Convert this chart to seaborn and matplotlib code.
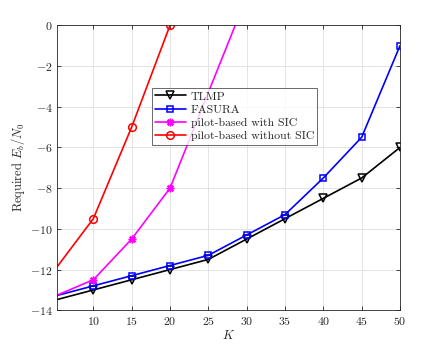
import numpy as np
import pandas as pd
import seaborn as sns
import matplotlib.pyplot as plt

# data
K = [5, 10, 15, 20, 25, 30, 35, 40, 45, 50]
tlmp = [-13.5, -13.0, -12.5, -12.0, -11.5, -10.5, -9.5, -8.5, -7.5, -6.0]
fasura = [-13.3, -12.8, -12.3, -11.8, -11.3, -10.3, -9.3, -7.5, -5.5, -1.0]
K_sic = [5, 10, 15, 20, 30]
pilot_sic = [-13.3, -12.5, -10.5, -8.0, 1.4]
K_nosic = [5, 10, 15, 20]
pilot_nosic = [-12.0, -9.5, -5.0, 0.0]

names = ["TLMP", "FASURA", "pilot-based with SIC", "pilot-based without SIC"]
colors = ["black", "blue", "magenta", "red"]
markers = ["v", "s", (8, 2, 0), "o"]
msizes = [6, 4.5, 5.5, 5.5]

sns.set_style("ticks")
plt.rcParams["font.family"] = ["cmr10", "DejaVu Serif"]
plt.rcParams["mathtext.fontset"] = "cm"
plt.rcParams["axes.unicode_minus"] = False
plt.rcParams["axes.formatter.use_mathtext"] = True

frames = []
for name, xs, ys in zip(names, [K, K, K_sic, K_nosic],
                        [tlmp, fasura, pilot_sic, pilot_nosic]):
    frames.append(pd.DataFrame({"K": xs, "val": ys, "method": name}))
df = pd.concat(frames, ignore_index=True)

fig = plt.figure(figsize=(4.43, 3.49), dpi=100)
ax = fig.add_axes([57.3 / 443, 1 - 310.3 / 349, 342.7 / 443, 285 / 349])

for name, c, m, ms in zip(names, colors, markers, msizes):
    sub = df[df.method == name]
    sns.lineplot(data=sub, x="K", y="val", ax=ax, color=c, marker=m,
                 markersize=ms, markerfacecolor="none", markeredgecolor=c,
                 markeredgewidth=1.1, linewidth=1.2, label=name,
                 markevery=slice(1, None))

ax.set_xlim(5.3, 50)
ax.set_ylim(-14, 0)
ax.set_xticks([10, 15, 20, 25, 30, 35, 40, 45, 50])
ax.set_yticks(np.arange(-14, 1, 2))
ax.grid(True, color="#e3e3e3", linewidth=0.7)
ax.set_axisbelow(True)
ax.tick_params(direction="in", top=True, right=True, labelsize=8.5,
               colors="#262626", length=3, width=0.6)
for s in ax.spines.values():
    s.set_color("#262626")
    s.set_linewidth(0.6)
ax.set_xlabel("$K$", fontsize=9, labelpad=1)
ax.set_ylabel("Required $E_b/N_0$", fontsize=9, labelpad=2)

leg = ax.legend(loc="upper left", bbox_to_anchor=(0.275, 0.781), fontsize=8.5,
                frameon=True, fancybox=False, edgecolor="#262626",
                handlelength=2.6, borderpad=0.3, labelspacing=0.25,
                handletextpad=0.4, borderaxespad=0)
leg.get_frame().set_linewidth(0.6)

fig.savefig("out.png", dpi=100)
